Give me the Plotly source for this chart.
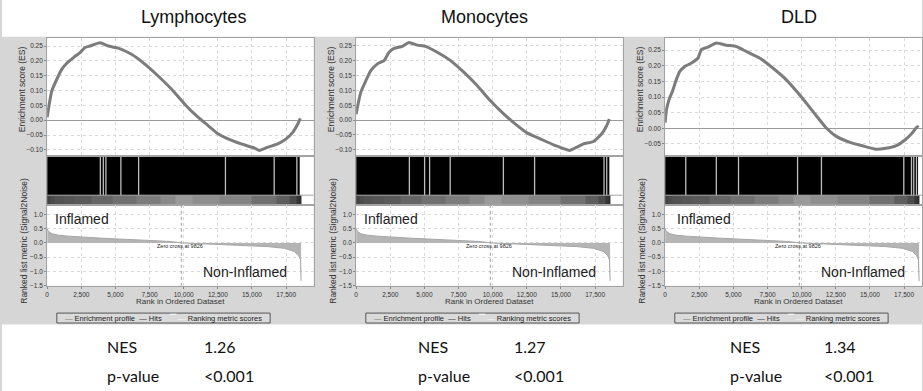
import plotly.graph_objects as go

W, H = 923, 391

# ---------------- data ----------------
titles = ["Lymphocytes", "Monocytes", "DLD"]
nes_values = ["1.26", "1.27", "1.34"]
p_values = ["<0.001", "<0.001", "<0.001"]

es_rank_lym = [0, 175, 343, 708, 1073, 1438, 1927, 2410, 2782, 3140, 3870, 4480, 5210, 6185, 7155, 8130,
               9100, 10075, 11050, 11785, 12515, 13245, 14215, 15190, 15550, 16165, 16895, 17500, 17990,
               18355, 18545]
es_val_lym = [0.01, 0.06, 0.099, 0.138, 0.172, 0.192, 0.211, 0.228, 0.245, 0.25, 0.261, 0.25, 0.243, 0.222,
              0.189, 0.149, 0.105, 0.054, 0.01, -0.018, -0.046, -0.063, -0.08, -0.094, -0.102, -0.091,
              -0.08, -0.063, -0.041, -0.013, 0.006]

es_rank_mono = [0, 170, 343, 708, 1073, 1560, 2044, 2410, 2780, 3385, 3870, 4480, 5090, 5940, 6915, 7885,
                8860, 9835, 10805, 11785, 12515, 13485, 14455, 15430, 15625, 16165, 16650, 17380, 17990,
                18355, 18545]
es_val_mono = [0.02, 0.06, 0.094, 0.132, 0.166, 0.189, 0.2, 0.228, 0.241, 0.248, 0.261, 0.252, 0.248, 0.228,
               0.2, 0.161, 0.116, 0.065, 0.021, -0.018, -0.043, -0.063, -0.083, -0.099, -0.102, -0.091,
               -0.08, -0.072, -0.046, -0.018, 0.004]

es_rank_dld = [0, 100, 290, 540, 780, 1073, 1438, 1927, 2410, 2657, 3140, 3750, 4480, 5210, 5940, 6915,
               7885, 8860, 9835, 10805, 11785, 12515, 13485, 14455, 15430, 16165, 16895, 17625, 18110,
               18475, 18570]
es_val_dld = [0.018, 0.06, 0.092, 0.119, 0.151, 0.182, 0.198, 0.209, 0.225, 0.252, 0.26, 0.273, 0.266,
              0.262, 0.246, 0.225, 0.193, 0.156, 0.108, 0.055, 0.002, -0.025, -0.044, -0.056, -0.067,
              -0.064, -0.056, -0.035, -0.014, 0.005, 0.003]

es_ranks = [es_rank_lym, es_rank_mono, es_rank_dld]
es_vals = [es_val_lym, es_val_mono, es_val_dld]

es_ticks_lym = [-0.10, -0.05, 0.00, 0.05, 0.10, 0.15, 0.20, 0.25]
es_ticks_mono = [-0.10, -0.05, 0.00, 0.05, 0.10, 0.15, 0.20, 0.25]
es_ticks_dld = [-0.05, 0.00, 0.05, 0.10, 0.15, 0.20, 0.25]
es_ticks = [es_ticks_lym, es_ticks_mono, es_ticks_dld]
es_ranges = [[-0.12, 0.278], [-0.12, 0.277], [-0.088, 0.29]]

# ranked list metric (same ranked dataset in all three panels)
rank_pos = [0, 100, 343, 800, 1560, 2500, 4000, 5500, 7645, 9000, 9826, 11500, 13730, 16160, 17380,
            18110, 18425, 18560, 18600]
rank_metric = [0.49, 0.40, 0.32, 0.27, 0.235, 0.20, 0.165, 0.13, 0.094, 0.05, 0.0, -0.035, -0.07, -0.13,
               -0.19, -0.30, -0.45, -0.60, -1.33]
zero_cross = 9826
rank_ticks_x = [0, 2500, 5000, 7500, 10000, 12500, 15000, 17500]
rank_ticks_y = [-1.5, -1.0, -0.5, 0.0, 0.5, 1.0]

# hits: dense black band with visible gaps (ranks)
hit_gaps_lym = [3895, 4114, 4303, 5400, 6700, 13060, 16630, 18290]
hit_gaps_mono = [3899, 5015, 5380, 6890, 10784, 13070, 18157, 18354]
hit_gaps_dld = [1510, 3750, 5375, 9700, 11450, 17480, 18045, 18210, 18410]
hit_gaps = [hit_gaps_lym, hit_gaps_mono, hit_gaps_dld]
hits_end = [18500, 18545, 18525]

legend_labels = ["Enrichment profile", "Hits", "Ranking metric scores"]

# ---------------- layout helpers ----------------
offsets = [0, 310, 620]
PX_PER_RANK = 0.013697
rows_px = [(38, 157), (157, 207), (207, 288)]  # ES, hits, ranked

def fx(px):
    return px / W

def fy(py):
    return 1 - py / H

FONT = "Liberation Sans, Arial, sans-serif"
GRID = "#d9d9d9"
BORDER = "#a3a3a3"

fig = go.Figure()
layout = dict(
    width=W, height=H, margin=dict(l=0, r=0, t=0, b=0),
    paper_bgcolor="#d6d6d6", plot_bgcolor="white", showlegend=False,
    font=dict(family=FONT, color="#333333", size=7),
)
shapes = [
    dict(type="rect", xref="paper", yref="paper", x0=0, x1=1, y0=fy(37), y1=1.02,
         fillcolor="white", line=dict(width=0), layer="below"),
    dict(type="rect", xref="paper", yref="paper", x0=0, x1=1, y0=-0.02, y1=fy(327),
         fillcolor="white", line=dict(width=0), layer="below"),
]
annotations = []


def ann(**kw):
    d = dict(showarrow=False, xanchor="center", yanchor="middle", borderpad=0)
    d.update(kw)
    annotations.append(d)


for p in range(3):
    ox = offsets[p]
    x0 = ox + 45.3
    x1 = min(ox + 312.7, W)
    xmax = (x1 - x0) / PX_PER_RANK
    xdom = [fx(x0), fx(x1)]
    ks = [p * 3 + r + 1 for r in range(3)]
    names = [("x" if k == 1 else f"x{k}", "y" if k == 1 else f"y{k}") for k in ks]
    axkeys = [("xaxis" if k == 1 else f"xaxis{k}", "yaxis" if k == 1 else f"yaxis{k}") for k in ks]

    common = dict(showline=True, mirror=True, linecolor=BORDER, linewidth=1,
                  tickfont=dict(size=6.5, color="#333"))
    (xe, ye), (xh, yh), (xr, yr) = names
    (kxe, kye), (kxh, kyh), (kxr, kyr) = axkeys
    layout[kxe] = dict(domain=xdom, range=[0, xmax], anchor=ye, showticklabels=False, zeroline=False,
                       showgrid=True, gridcolor=GRID, griddash="dot", tick0=0, dtick=2500, ticks="", **common)
    layout[kye] = dict(domain=[fy(rows_px[0][1]), fy(rows_px[0][0])], range=es_ranges[p], anchor=xe,
                       tickvals=es_ticks[p], tickformat=".2f", showgrid=True, gridcolor=GRID, griddash="dot",
                       ticks="outside", ticklen=2, tickcolor="#888", zeroline=True,
                       zerolinecolor="#9a9a9a", zerolinewidth=1, **common)
    layout[kxh] = dict(domain=xdom, range=[0, xmax], anchor=yh, showticklabels=False, showgrid=False,
                       zeroline=False, ticks="", **common)
    layout[kyh] = dict(domain=[fy(rows_px[1][1]), fy(rows_px[1][0])], range=[0, 1], anchor=xh,
                       showticklabels=False, showgrid=False, zeroline=False, ticks="", **common)
    layout[kxr] = dict(domain=xdom, range=[0, xmax], anchor=yr, tickvals=rank_ticks_x, tickformat=",.0f",
                       showgrid=True, gridcolor=GRID, griddash="dot", ticks="outside", ticklen=2,
                       zeroline=False, tickcolor="#888", **common)
    layout[kyr] = dict(domain=[fy(rows_px[2][1]), fy(rows_px[2][0])], range=[-1.5, 1.31], anchor=xr,
                       tickvals=rank_ticks_y, tickformat=".1f", showgrid=True, gridcolor=GRID,
                       griddash="dot", ticks="outside", ticklen=2, tickcolor="#888", zeroline=False, **common)

    # ES curve
    fig.add_trace(go.Scatter(x=es_ranks[p], y=es_vals[p], mode="lines", xaxis=xe, yaxis=ye,
                             line=dict(color="#7c7c7c", width=3, shape="spline", smoothing=0.5)))

    # hits band
    hb, ht = 0.206, 0.974
    fig.add_trace(go.Bar(x=[hits_end[p] / 2], y=[ht - hb], base=[hb], width=[hits_end[p]],
                         marker=dict(color="black", line=dict(width=0)), xaxis=xh, yaxis=yh))
    gx, gy = [], []
    for g in hit_gaps[p]:
        gx += [g, g, None]
        gy += [hb, ht, None]
    fig.add_trace(go.Scatter(x=gx, y=gy, mode="lines", line=dict(color="#bdbdbd", width=1.3),
                             xaxis=xh, yaxis=yh))
    # ranking strip (grey version of the rank colour bar)
    fig.add_trace(go.Heatmap(x=rank_pos, y=[0.006, hb], z=[rank_metric], zmin=-0.5, zmax=0.5,
                             colorscale=[[0, "#2e2e2e"], [0.3, "#5a5a5a"], [0.5, "#9a9a9a"],
                                         [0.7, "#5a5a5a"], [1, "#383838"]],
                             zsmooth=False, showscale=False, xaxis=xh, yaxis=yh, hoverinfo="skip"))
    fig.add_trace(go.Scatter(x=[0, xmax], y=[hb, hb], mode="lines", line=dict(color=BORDER, width=1),
                             xaxis=xh, yaxis=yh))

    # ranked list metric
    fig.add_trace(go.Scatter(x=rank_pos, y=rank_metric, mode="lines", fill="tozeroy",
                             fillcolor="#b5b5b5", line=dict(color="#a5a5a5", width=1), xaxis=xr, yaxis=yr))
    fig.add_trace(go.Scatter(x=[zero_cross, zero_cross], y=[-1.5, 1.31], mode="lines",
                             line=dict(color="#9a9a9a", width=1, dash="dot"), xaxis=xr, yaxis=yr))
    ann(x=zero_cross - 120, y=-0.12, xref=xr, yref=yr, text="Zero cross at 9826",
        font=dict(size=5.5, color="#222"))
    infl_x = [708, 708, 1022][p]
    ann(x=infl_x - 200, y=0.85, xref=xr, yref=yr, text="Inflamed", xanchor="left",
        font=dict(size=14, color="#222", family=FONT))
    ann(x=11370, y=-1.02, xref=xr, yref=yr, text="Non-Inflamed", xanchor="left",
        font=dict(size=14, color="#222", family=FONT))

    # axis titles
    ann(x=fx(ox + 20), y=fy(90), xref="paper", yref="paper", text="Enrichment score (ES)",
        textangle=-90, font=dict(size=8.5, color="#333"))
    ann(x=fx(ox + 22.7), y=fy(243), xref="paper", yref="paper",
        text="Ranked list metric (Signal2Noise)", textangle=-90, font=dict(size=8.5, color="#333"))
    ann(x=fx(ox + 179.5), y=fy(304), xref="paper", yref="paper",
        text="Rank in Ordered Dataset", font=dict(size=8, color="#333"))

    # legend
    shapes.append(dict(type="rect", xref="paper", yref="paper", x0=fx(ox + 55), x1=fx(ox + 269),
                       y0=fy(325.5), y1=fy(315.5), line=dict(color="#555", width=1), fillcolor="#dadada",
                       layer="below"))
    leg = ("<span style='color:#808080'>—</span> " + legend_labels[0] +
           "  <span style='color:#404040'>—</span> " + legend_labels[1] +
           "    <span style='color:#f4f4f4'>▔ —</span> " + legend_labels[2])
    ann(x=fx(ox + 162), y=fy(320.5), xref="paper", yref="paper", text=leg,
        font=dict(size=7.5, color="#222"))

    # title
    tcx = [192, 484, 800][p]
    ann(x=fx(tcx), y=fy(17), xref="paper", yref="paper", text=titles[p],
        font=dict(size=18, color="#111", family=FONT))
    # NES / p-value
    lx = [104, 416, 729][p]
    vx = [202, 513, 824][p]
    for txt, xx, yy in [("NES", lx, 349), (nes_values[p], vx, 349), ("p-value", lx, 378),
                        (p_values[p], vx, 378)]:
        ann(x=fx(xx), y=fy(yy), xref="paper", yref="paper", text=txt, xanchor="left",
            font=dict(size=16, color="#111", family="Lato, Open Sans, sans-serif"))

layout["shapes"] = shapes
layout["annotations"] = annotations
fig.update_layout(**layout)
fig.write_html("out.html", config={"displayModeBar": False},
               post_script="document.body.style.margin='0';")
